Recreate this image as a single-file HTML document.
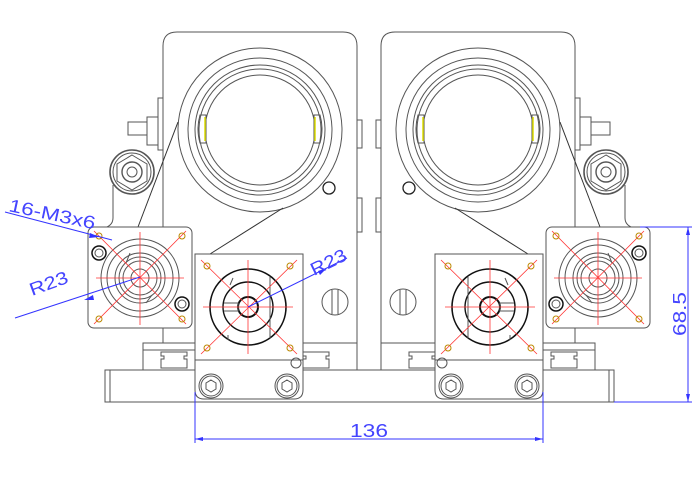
<!DOCTYPE html>
<html><head><meta charset="utf-8"><style>
html,body{margin:0;padding:0;background:#fff;}
svg{display:block;}
</style></head><body>
<svg width="700" height="479" viewBox="0 0 700 479" xmlns="http://www.w3.org/2000/svg">
<defs>
<g id="half" fill="none" stroke="#555" stroke-width="1">
  <path d="M163 343 V46 Q163 32 177 32 H343 Q357 32 357 46 V343 Z" fill="#fff"/>
  <rect x="143" y="343" width="214" height="27" fill="#fff"/>
  <line x1="143" y1="350" x2="195" y2="350"/>
  <path d="M161 352 H187 V356 H184 V359 H187 V368 H161 V359 H164 V356 H161 Z" fill="#fff"/>
  <path d="M303 352 H329 V356 H326 V359 H329 V368 H303 V359 H306 V356 H303 Z" fill="#fff"/>
  <rect x="158" y="98" width="5" height="52"/>
  <rect x="147" y="117" width="11" height="28"/>
  <rect x="128" y="122" width="19" height="13"/>
  <rect x="357" y="120" width="5" height="28"/>
  <rect x="357" y="198" width="5" height="34"/>
  <path d="M113 185 V218 Q113 227 100 229" />
  <circle cx="132" cy="172" r="22" stroke-width="1.6"/>
  <circle cx="132" cy="172" r="19"/>
  <polygon points="132,155 147,164 147,181 132,190 117,181 117,164"/>
  <circle cx="132" cy="172" r="10" stroke-width="1.4"/>
  <circle cx="132" cy="172" r="5"/>
  <circle cx="260" cy="130" r="82" fill="#fff"/>
  <circle cx="260" cy="130" r="72"/>
  <circle cx="260" cy="130" r="65"/>
  <circle cx="260" cy="130" r="61"/>
  <circle cx="260" cy="130" r="55"/>
  <path d="M200 115 h6 v28 h-6 Q196 129 200 115Z"/>
  <path d="M320 115 h-6 v28 h6 Q324 129 320 115Z"/>
  <line x1="205" y1="117" x2="205" y2="141" stroke="#dd0" stroke-width="1.5"/>
  <line x1="315" y1="117" x2="315" y2="141" stroke="#dd0" stroke-width="1.5"/>
  <circle cx="329" cy="188" r="6" stroke="#222" stroke-width="1.3"/>
  <line x1="178" y1="122" x2="138" y2="227" stroke="#333"/>
  <line x1="283" y1="208" x2="210" y2="254" stroke="#333"/>
  <circle cx="335" cy="302" r="13"/>
  <line x1="332" y1="290" x2="332" y2="314"/><line x1="338" y1="290" x2="338" y2="314"/>
  <rect x="88" y="227" width="104" height="101" rx="6" fill="#fff"/>
  <circle cx="140" cy="278" r="39"/>
  <circle cx="140" cy="278" r="33"/>
  <circle cx="140" cy="278" r="25"/>
  <circle cx="140" cy="278" r="21"/>
  <circle cx="140" cy="278" r="17"/>
  <circle cx="140" cy="278" r="9"/>
  <path d="M126 263 l4 -10 M152 295 l-6 8"/>
  <circle cx="99" cy="253" r="7" stroke="#111" stroke-width="1.5"/><circle cx="99" cy="253" r="4"/>
  <circle cx="182" cy="304" r="7" stroke="#111" stroke-width="1.5"/><circle cx="182" cy="304" r="4"/>
  <g stroke="#f33" stroke-width="0.8">
    <line x1="94" y1="231" x2="186" y2="324"/><line x1="186" y1="231" x2="94" y2="324"/>
    <line x1="96" y1="278" x2="184" y2="278"/><line x1="140" y1="232" x2="140" y2="325"/>
  </g>
  <g stroke="#b80" stroke-width="1"><circle cx="99" cy="236" r="3"/><circle cx="182" cy="236" r="3"/><circle cx="99" cy="319" r="3"/><circle cx="182" cy="319" r="3"/></g>
  <rect x="195" y="254" width="108" height="106" fill="#fff"/>
  <path d="M195 360 H303 V390 Q303 399 294 399 H204 Q195 399 195 390 Z" fill="#fff"/>
  <circle cx="296" cy="363" r="5"/>
  <circle cx="211" cy="386" r="12"/><circle cx="211" cy="386" r="10"/>
  <polygon points="211,380 216,383 216,389 211,392 206,389 206,383"/>
  <circle cx="287" cy="386" r="12"/><circle cx="287" cy="386" r="10"/>
  <polygon points="287,380 292,383 292,389 287,392 282,389 282,383"/>
  <circle cx="248" cy="307" r="38" stroke="#111" stroke-width="1.6"/>
  <circle cx="248" cy="307" r="25" stroke="#111" stroke-width="1.4"/>
  <circle cx="248" cy="307" r="10" stroke="#111" stroke-width="2"/>
  <path d="M224 303 h14 v8 h-14" />
  <line x1="230" y1="285" x2="233" y2="278"/><line x1="270" y1="277" x2="270" y2="338"/><line x1="228" y1="335" x2="228" y2="340"/>
  <g stroke="#f33" stroke-width="0.8">
    <line x1="201" y1="260" x2="297" y2="354"/><line x1="297" y1="260" x2="201" y2="354"/>
    <line x1="203" y1="307" x2="293" y2="307"/><line x1="248" y1="260" x2="248" y2="354"/>
  </g>
  <g stroke="#b80" stroke-width="1"><circle cx="207" cy="266" r="3"/><circle cx="290" cy="266" r="3"/><circle cx="207" cy="348" r="3"/><circle cx="290" cy="348" r="3"/></g>
</g>
</defs>
<rect x="105" y="370" width="509" height="32" fill="#fff" stroke="#555"/>
<line x1="110" y1="370" x2="110" y2="402" stroke="#555"/>
<line x1="609" y1="370" x2="609" y2="402" stroke="#555"/>
<use href="#half"/>
<use href="#half" transform="matrix(-1 0 0 1 738 0)"/>
<g stroke="#3333ff" stroke-width="1" fill="none">
  <line x1="195" y1="392" x2="195" y2="443"/>
  <line x1="543" y1="392" x2="543" y2="443"/>
  <line x1="195" y1="439" x2="543" y2="439"/>
  <line x1="640" y1="227" x2="692" y2="227"/>
  <line x1="614" y1="402" x2="692" y2="402"/>
  <line x1="688" y1="227" x2="688" y2="402"/>
  <line x1="5" y1="212" x2="112" y2="240"/>
  <line x1="15" y1="318" x2="140" y2="277"/>
  <line x1="248" y1="307" x2="347" y2="258"/>
</g>
<g fill="#3333ff">
  <polygon points="195,439 203,437 203,441"/><polygon points="543,439 535,437 535,441"/>
  <polygon points="688,227 686,235 690,235"/><polygon points="688,402 686,394 690,394"/>
  <polygon points="99,237 90,233 89,238"/>
  <polygon points="84,300 93,295 94,300"/>
  <polygon points="327,268 318,271 320,275"/>
</g>
<g fill="#4444ff" font-family="Liberation Sans, sans-serif" font-size="18">
  <text x="350" y="437" textLength="38" lengthAdjust="spacingAndGlyphs">136</text>
  <text transform="translate(686,336) rotate(-90)" textLength="44" lengthAdjust="spacingAndGlyphs">68.5</text>
  <text transform="translate(8,211) rotate(12)" textLength="88" lengthAdjust="spacingAndGlyphs">16-M3x6</text>
  <text transform="translate(32,296) rotate(-20)" textLength="40" lengthAdjust="spacingAndGlyphs">R23</text>
  <text transform="translate(314,276) rotate(-26)" textLength="38" lengthAdjust="spacingAndGlyphs">R23</text>
</g>
</svg>
</body></html>
